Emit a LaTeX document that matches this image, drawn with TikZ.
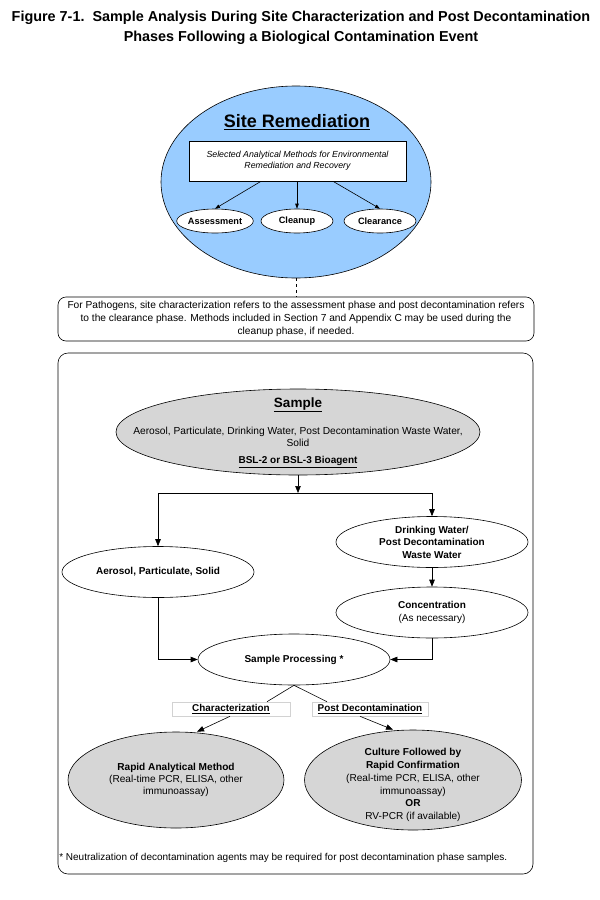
\documentclass[tikz,border=0pt]{standalone}
\usepackage{fontspec}
\setmainfont{Liberation Sans}
\usetikzlibrary{arrows.meta,shapes.geometric}
\definecolor{skyfill}{RGB}{153,204,255}
\definecolor{grayfill}{RGB}{214,214,214}
\definecolor{lblborder}{RGB}{210,210,210}
\newcommand{\fs}[2]{\fontsize{#1}{#2}\selectfont}
\begin{document}
\begin{tikzpicture}[x=1pt,y=-1pt,
  line width=0.6pt,
  oval/.style={ellipse, draw, inner sep=0pt, align=center},
  smalloval/.style={oval, fill=white, minimum width=72, minimum height=24, font=\bfseries\fs{9.2}{10}},
  whiteoval/.style={oval, fill=white, minimum width=192, minimum height=51, font=\bfseries\fs{10}{12.5}},
  grayoval/.style={oval, fill=grayfill},
  bigarrow/.style={-{Triangle[length=7pt,width=5.5pt]}},
  smallarrow/.style={-{Triangle[length=5pt,width=3.5pt]}},
  lblbox/.style={draw=lblborder, fill=white, minimum height=14, inner sep=0pt, font=\bfseries\fs{9.9}{10}},
  txt/.style={inner sep=0pt, align=center}
]
\useasboundingbox (0,0) rectangle (600,900);
\fill[white] (0,0) rectangle (600,900);

% title
\node[txt, font=\bfseries\fs{14.4}{20}] (title) at (301,28)
  {Figure 7-1.\ \ Sample Analysis During Site Characterization and Post Decontamination\\Phases Following a Biological Contamination Event};

% site remediation
\node[oval, fill=skyfill, minimum width=270, minimum height=192] (site) at (296,182) {};
\node[txt, font=\bfseries\fs{18}{20}] (sitetitle) at (297,122) {\underline{Site Remediation}};
\node[draw, fill=white, minimum width=217, minimum height=40, inner sep=0pt, align=center, font=\itshape\fs{8.8}{11}] (methods) at (297.5,161)
  {Selected Analytical Methods for Environmental\\Remediation and Recovery};
\node[smalloval] (assess) at (215,221) {Assessment};
\node[smalloval] (cleanup) at (297,221) {Cleanup};
\node[smalloval] (clear) at (380,221) {Clearance};
\draw[smallarrow] ([xshift=-36.5]methods.south) -- (assess.north);
\draw[smallarrow] (cleanup.north |- methods.south) -- (cleanup.north);
\draw[smallarrow] ([xshift=35.5]methods.south) -- (clear.north);

% note
\node[draw, rounded corners=8, minimum width=476, minimum height=44, inner sep=0pt, align=center, font=\fs{10.2}{13}] (note) at (296,319)
  {For Pathogens, site characterization refers to the assessment phase and post decontamination refers\\to the clearance phase. Methods included in Section 7 and Appendix C may be used during the\\cleanup phase, if needed.};
\draw[dashed] (site.south) -- (site.south |- note.north);

% panel
\node[draw, rounded corners=10, minimum width=475, minimum height=521, inner sep=0pt] (panel) at (295.5,613.5) {};

% sample
\node[grayoval, minimum width=364, minimum height=86] (sample) at (298,432) {};
\node[txt, font=\bfseries\fs{13.5}{15}] (sampletitle) at (298,405) {\underline{Sample}};
\node[txt, font=\fs{10.2}{12}] (sampletext) at (298,437) {Aerosol, Particulate, Drinking Water, Post Decontamination Waste Water,\\Solid};
\node[txt, font=\bfseries\fs{10}{10}] (samplebsl) at (298,462) {\underline{BSL-2 or BSL-3 Bioagent}};

\coordinate (j) at (298,493);
\node[whiteoval] (aer) at (158,572) {Aerosol, Particulate, Solid};
\node[whiteoval] (dw) at (432,542) {Drinking Water/\\Post Decontamination\\Waste Water};
\node[whiteoval] (conc) at (432,612.5) {Concentration\\{\mdseries(As necessary)}};
\node[whiteoval] (sp) at (294,659.5) {Sample Processing *};

\draw[bigarrow] (sample.south) -- (j);
\draw[bigarrow] (j) -| (aer.north);
\draw[bigarrow] (j) -| (dw.north);
\draw[bigarrow] (dw.south) -- (conc.north);
\draw[bigarrow] (aer.south) |- (sp.west);
\draw[bigarrow] (conc.south) |- (sp.east);

% labels
\node[lblbox, minimum width=118] (char) at (231,709) {\underline{Characterization}};
\node[lblbox, minimum width=116] (post) at (370,709) {\underline{Post Decontamination}};
\draw (sp.south) -- ([xshift=36]char.north);
\draw (sp.south) -- ([xshift=-43]post.north);

% results
\node[grayoval, minimum width=216, minimum height=96, font=\fs{10.1}{12}] (rapid) at (176,780)
  {{\bfseries Rapid Analytical Method}\\(Real-time PCR, ELISA, other\\immunoassay)};
\node[grayoval, minimum width=217, minimum height=100] (cult) at (413,780) {};
\node[txt, font=\fs{10.1}{12.8}] (culttext) at (413,785)
  {{\bfseries Culture Followed by}\\{\bfseries Rapid Confirmation}\\(Real-time PCR, ELISA, other\\immunoassay)\\{\bfseries OR}\\RV-PCR (if available)};
\draw[bigarrow] ([xshift=-1]char.south) -- ([xshift=21]rapid.north);
\draw[bigarrow] ([xshift=-10]post.south) -- ([xshift=-20]cult.north);

% footnote
\node[txt, anchor=west, font=\fs{10}{10}] (foot) at (59,858)
  {* Neutralization of decontamination agents may be required for post decontamination phase samples.};
\end{tikzpicture}
\end{document}
